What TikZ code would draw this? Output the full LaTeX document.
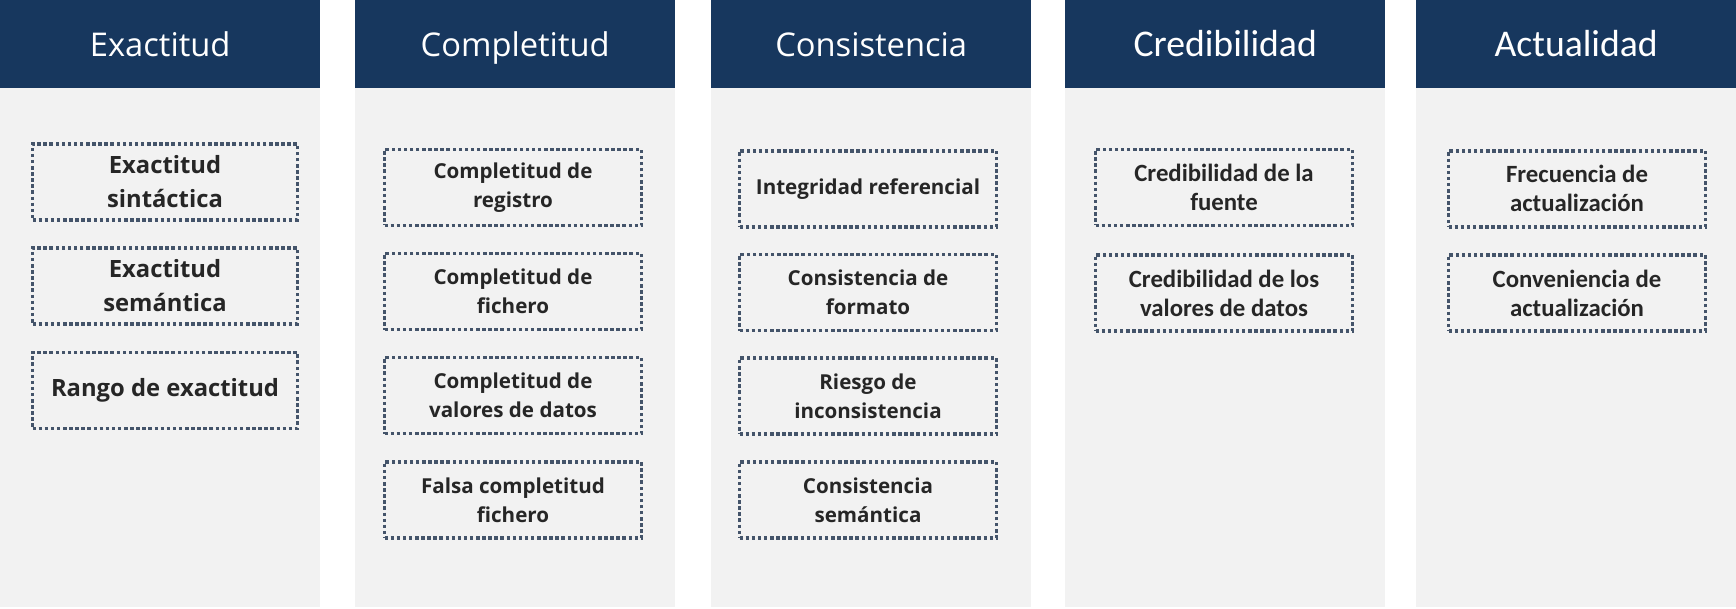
\documentclass[tikz,border=0pt]{standalone}
\usepackage{fontspec}
\setmainfont{Open Sans}
\newfontfamily\calib{Carlito}
\definecolor{navy}{RGB}{23,55,94}
\definecolor{bodygray}{RGB}{242,242,242}
\definecolor{dotcol}{RGB}{68,84,106}
\definecolor{textcol}{RGB}{38,38,38}
\begin{document}
\begin{tikzpicture}[x=1pt,y=-1pt,
  hdr/.style={fill=navy, text=white, minimum width=320pt, minimum height=88pt, inner sep=0pt,
    anchor=north west, text height=24pt, text depth=0pt, font=\fontsize{32.7}{38}\selectfont},
  hdrc/.style={hdr, font=\calib\fontsize{37.7}{44}\selectfont},
  colbody/.style={fill=bodygray, minimum width=320pt, minimum height=519pt, inner sep=0pt, anchor=north west},
  item/.style={draw=dotcol, line width=3.6pt, dash pattern=on 3.5pt off 2.6pt, minimum width=257pt,
    minimum height=76pt, inner sep=0pt, align=center, text=textcol,
    font=\bfseries\fontsize{20.6}{29}\selectfont},
  itemA/.style={item, minimum width=265pt, font=\bfseries\fontsize{23.8}{34}\selectfont},
  itemC/.style={item, font=\calib\bfseries\fontsize{24.8}{29}\selectfont}
]
\useasboundingbox (0,0) rectangle (1736,609);
\fill[white] (0,0) rectangle (1736,609);

% columns
\node[colbody] (c1) at (0,88) {};
\node[colbody] (c2) at (355,88) {};
\node[colbody] (c3) at (711,88) {};
\node[colbody] (c4) at (1065,88) {};
\node[colbody] (c5) at (1416,88) {};

% headers
\node[hdr] (h1) at (0,0) {Exactitud};
\node[hdr] (h2) at (355,0) {Completitud};
\node[hdr] (h3) at (711,0) {Consistencia};
\node[hdrc] (h4) at (1065,0) {Credibilidad};
\node[hdrc] (h5) at (1416,0) {Actualidad};

% column 1
\node[itemA] (a1) at (165,181.8) {Exactitud\\sintáctica};
\node[itemA] (a2) at (165,285.9) {Exactitud\\semántica};
\node[itemA] (a3) at (165,390.3) {Rango de exactitud};

% column 2
\node[item] (b1) at (513,187.5) {Completitud de\\registro};
\node[item] (b2) at (513,291.5) {Completitud de\\fichero};
\node[item] (b3) at (513,395.5) {Completitud de\\valores de datos};
\node[item] (b4) at (513,500) {Falsa completitud\\fichero};

% column 3
\node[item] (d1) at (868,188.8) {Integridad referencial};
\node[item] (d2) at (868,292.5) {Consistencia de\\formato};
\node[item] (d3) at (868,396.2) {Riesgo de\\inconsistencia};
\node[item] (d4) at (868,499.8) {Consistencia\\semántica};

% column 4
\node[itemC] (e1) at (1224,187.5) {Credibilidad de la\\fuente};
\node[itemC] (e2) at (1224,293) {Credibilidad de los\\valores de datos};

% column 5
\node[itemC] (f1) at (1577,188.8) {Frecuencia de\\actualización};
\node[itemC] (f2) at (1577,293) {Conveniencia de\\actualización};
\end{tikzpicture}
\end{document}
